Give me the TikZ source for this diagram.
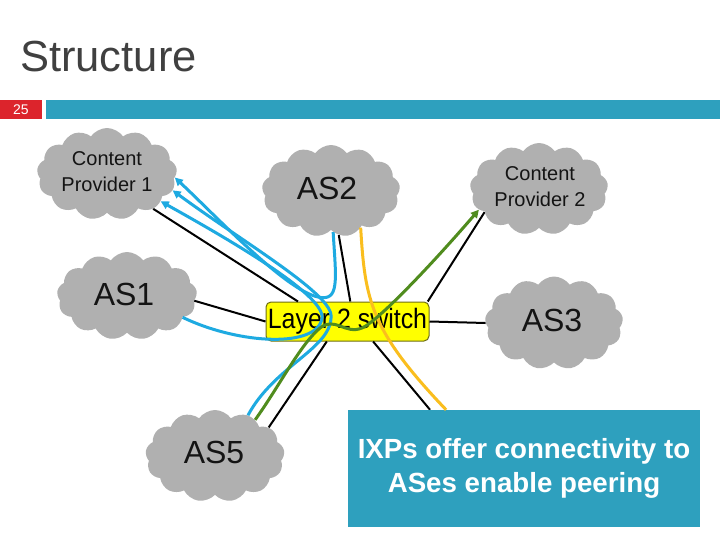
\documentclass[tikz,border=0pt]{standalone}
\usepackage{fontspec}
\setmainfont{Liberation Sans}
\usetikzlibrary{shapes.symbols,arrows.meta}
\pgfdeclarelayer{bg}\pgfdeclarelayer{fg}\pgfsetlayers{bg,main,fg}
\definecolor{tealc}{RGB}{46,160,190}
\definecolor{redc}{RGB}{220,36,44}
\definecolor{titlec}{RGB}{64,64,64}
\definecolor{cloudc}{RGB}{176,176,176}
\definecolor{bluec}{RGB}{30,170,225}
\definecolor{greenc}{RGB}{80,140,30}
\definecolor{yellowc}{RGB}{250,190,30}
\definecolor{switchc}{RGB}{255,255,0}
\definecolor{switchb}{RGB}{110,110,20}
\definecolor{textc}{RGB}{20,20,20}
\tikzset{
  cloudbox/.style={cloud, cloud puffs=13, cloud puff arc=110, aspect=1.5, fill=cloudc, draw=none, minimum width=140, minimum height=92, inner sep=0pt},
  bigtext/.style={font=\fontsize{32}{36}\selectfont, text=textc, inner sep=0pt},
  smalltext/.style={font=\fontsize{20}{26}\selectfont, text=textc, align=center, inner sep=0pt},
  blackline/.style={draw=black, line width=2pt},
  blueline/.style={draw=bluec, line width=3pt, -{Triangle[length=8pt,width=8pt]}},
  greenline/.style={draw=greenc, line width=3pt, -{Triangle[length=8pt,width=8pt]}},
  yellowline/.style={draw=yellowc, line width=3pt},
}
\begin{document}
\begin{tikzpicture}[x=1pt,y=-1pt]
\useasboundingbox (0,0) rectangle (720,540);
\begin{pgfonlayer}{bg}
\fill[white] (0,0) rectangle (720,540);
\end{pgfonlayer}
% header
\node[anchor=base west, inner sep=0pt, text=titlec, font=\fontsize{43.5}{44}\selectfont] (title) at (20,72) {Structure};
\node[fill=redc, minimum width=42, minimum height=19, inner sep=0pt, text=white, font=\fontsize{14}{14}\selectfont] (num) at (21,109.5) {25};
\node[fill=tealc, minimum width=674, minimum height=19, inner sep=0pt] (bar) at (383,109.5) {};
% clouds
\node[cloudbox] (cp1) at (107,174) {};
\node[smalltext] (cp1t) at (107,172) {Content\\Provider 1};
\node[cloudbox, minimum width=138] (as2) at (331,191) {};
\node[bigtext] (as2t) at (327,188) {AS2};
\node[cloudbox, minimum width=138] (cp2) at (539,189) {};
\node[smalltext] (cp2t) at (540,187) {Content\\Provider 2};
\node[cloudbox, minimum height=88] (as1) at (127,296) {};
\node[bigtext] (as1t) at (124,294) {AS1};
\node[cloudbox, minimum width=138, minimum height=93] (as3) at (554,323) {};
\node[bigtext] (as3t) at (552,320) {AS3};
\node[cloudbox, minimum width=139] (as5) at (215,456) {};
\node[bigtext] (as5t) at (214,452) {AS5};
% switch
\begin{pgfonlayer}{bg}
\node[fill=switchc, draw=switchb, line width=1pt, rounded corners=5pt, minimum width=163, minimum height=39, inner sep=0pt, font=\fontsize{28}{28}\selectfont] (sw) at (347.5,321.5) {\scalebox{0.89}[1]{Layer 2 switch}};
\draw[blackline] (cp1.-37.6) -- (sw.158.9);
\draw[blackline] (as1.-4) -- (sw.west);
\draw[blackline] (as2.-80.8) -- (sw.82.7);
\draw[blackline] (cp2.203.5) -- (sw.14.1);
\draw[blackline] (as3.west) -- (sw.east);
\draw[blackline] (as5.28.4) -- (sw.-136.4);
\end{pgfonlayer}
% text box
\node[fill=tealc, minimum width=352, minimum height=117, inner sep=0pt, text=white, align=center, font=\bfseries\fontsize{27.7}{34}\selectfont] (ixp) at (524,468.5) {IXPs offer connectivity to\\ASes enable peering};
\begin{pgfonlayer}{bg}
\draw[blackline] (sw.-38.5) -- (ixp.148.4);
\end{pgfonlayer}
% coloured paths
\begin{pgfonlayer}{fg}
\draw[yellowline] (as2.-51) .. controls (365,300) and (370,330) .. (ixp.143.5);
\draw[blueline] (as2.-87.5) .. controls (336,280) and (340,302) .. (318,297) .. controls (285,290) and (215,215) .. (cp1.-3);
\draw[blueline] (as5.51) .. controls (275,365) and (333,348) .. (331,315) .. controls (329,292) and (240,240) .. (cp1.-14);
\draw[blueline] (as1.-21) .. controls (240,345) and (318,348) .. (322,318) .. controls (325,295) and (230,240) .. (cp1.-27);
\draw[greenline] (as5.42.5) .. controls (280,385) and (300,345) .. (320,328) .. controls (335,316) and (345,335) .. (362,328) .. controls (380,320) and (440,255) .. (cp2.199.5);
\end{pgfonlayer}
\end{tikzpicture}
\end{document}
